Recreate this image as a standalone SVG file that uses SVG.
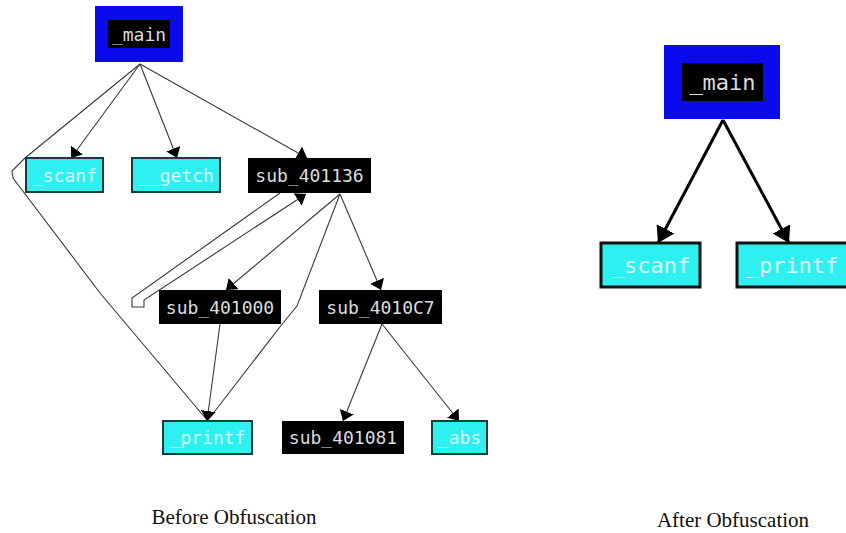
<svg xmlns="http://www.w3.org/2000/svg" width="846" height="533" viewBox="0 0 846 533">
<defs>
<style>
.bg{fill:#ffffff}
.blue{fill:#0a0aee}
.blk{fill:#000000}
.cyL{fill:#2ef0f0;stroke:#1c3a3a;stroke-width:2}
.cyR{fill:#2ef0f0;stroke:#111111;stroke-width:3}
.tL{font-family:"DejaVu Sans Mono","Liberation Mono",monospace;font-size:18px;text-anchor:middle}
.tR{font-family:"DejaVu Sans Mono","Liberation Mono",monospace;font-size:22px;text-anchor:middle}
.tw{fill:#dcdcdc}
.tc{fill:#d9ffff}
.eL{fill:none;stroke:#3a3a3a;stroke-width:1.1}
.eR{fill:none;stroke:#000000;stroke-width:3}
.cap{font-family:"Liberation Serif","Times New Roman",serif;font-size:21px;fill:#111111;text-anchor:middle}
</style>
<marker id="arL" markerUnits="userSpaceOnUse" markerWidth="10" markerHeight="15" viewBox="0 0 10 15" refX="10" refY="7.5" orient="auto">
<path d="M0,0 L10,7.5 L0,15 z" fill="#000"/>
</marker>
<marker id="arR" markerUnits="userSpaceOnUse" markerWidth="16" markerHeight="20" viewBox="0 0 16 20" refX="16" refY="10" orient="auto">
<path d="M0,0 L16,10 L0,20 z" fill="#000"/>
</marker>
</defs>
<rect class="bg" x="0" y="0" width="846" height="533"/>

<g id="connectors">
<path class="eL" d="M140,64 L71,158" marker-end="url(#arL)"/>
<path class="eL" d="M140,64 L177,158" marker-end="url(#arL)"/>
<path class="eL" d="M140,64 L307,158" marker-end="url(#arL)"/>
<path class="eL" d="M140,64 L25,158 L12,171 L13,178 L100,293 L207,420"/>
<path class="eL" d="M280,193 L132,298 L132,307 L144,307 L144,300 L306,194" marker-end="url(#arL)"/>
<path class="eL" d="M340,194 L226,290" marker-end="url(#arL)"/>
<path class="eL" d="M340,194 L381,290" marker-end="url(#arL)"/>
<path class="eL" d="M340,194 L297,306 L283,323 L208,420"/>
<path class="eL" d="M220,324 L207,421" marker-end="url(#arL)"/>
<path class="eL" d="M382,324 L343,421" marker-end="url(#arL)"/>
<path class="eL" d="M382,324 L459,421" marker-end="url(#arL)"/>
<path class="eR" d="M723,120 L658,243" marker-end="url(#arR)"/>
<path class="eR" d="M723,120 L789,243" marker-end="url(#arR)"/>
</g>

<g id="main_before">
<rect class="blue" x="95" y="6" width="88" height="56"/>
<rect class="blk" x="108" y="20" width="62" height="28"/>
<text class="tL tw" x="139" y="40.5">_main</text>
</g>
<g id="scanf_before">
<rect class="cyL" x="26" y="158" width="77" height="34"/>
<text class="tL tc" x="64.5" y="181.5">_scanf</text>
</g>
<g id="getch_before">
<rect class="cyL" x="132" y="158" width="88" height="34"/>
<text class="tL tc" x="176" y="181.5">__getch</text>
</g>
<g id="sub_401136">
<rect class="blk" x="248" y="158" width="123" height="35"/>
<text class="tL tw" x="309.5" y="182">sub_401136</text>
</g>
<g id="sub_401000">
<rect class="blk" x="159" y="290" width="122" height="34"/>
<text class="tL tw" x="220" y="313.5">sub_401000</text>
</g>
<g id="sub_4010C7">
<rect class="blk" x="319" y="290" width="123" height="34"/>
<text class="tL tw" x="380.5" y="313.5">sub_4010C7</text>
</g>
<g id="printf_before">
<rect class="cyL" x="163" y="421" width="89" height="33"/>
<text class="tL tc" x="207.5" y="444">_printf</text>
</g>
<g id="sub_401081">
<rect class="blk" x="282" y="421" width="122" height="33"/>
<text class="tL tw" x="343" y="444">sub_401081</text>
</g>
<g id="abs_before">
<rect class="cyL" x="432" y="421" width="55" height="33"/>
<text class="tL tc" x="459.5" y="444">_abs</text>
</g>

<g id="main_after">
<rect class="blue" x="664" y="45" width="116" height="74"/>
<rect class="blk" x="682" y="63" width="81" height="38"/>
<text class="tR tw" x="722.5" y="90">_main</text>
</g>
<g id="scanf_after">
<rect class="cyR" x="601" y="243" width="99" height="44"/>
<text class="tR tc" x="650.5" y="273">_scanf</text>
</g>
<g id="printf_after">
<rect class="cyR" x="737" y="243" width="112" height="44"/>
<text class="tR tc" x="792" y="273">_printf</text>
</g>

<text class="cap" x="234" y="524">Before Obfuscation</text>
<text class="cap" x="733" y="527">After Obfuscation</text>
</svg>
